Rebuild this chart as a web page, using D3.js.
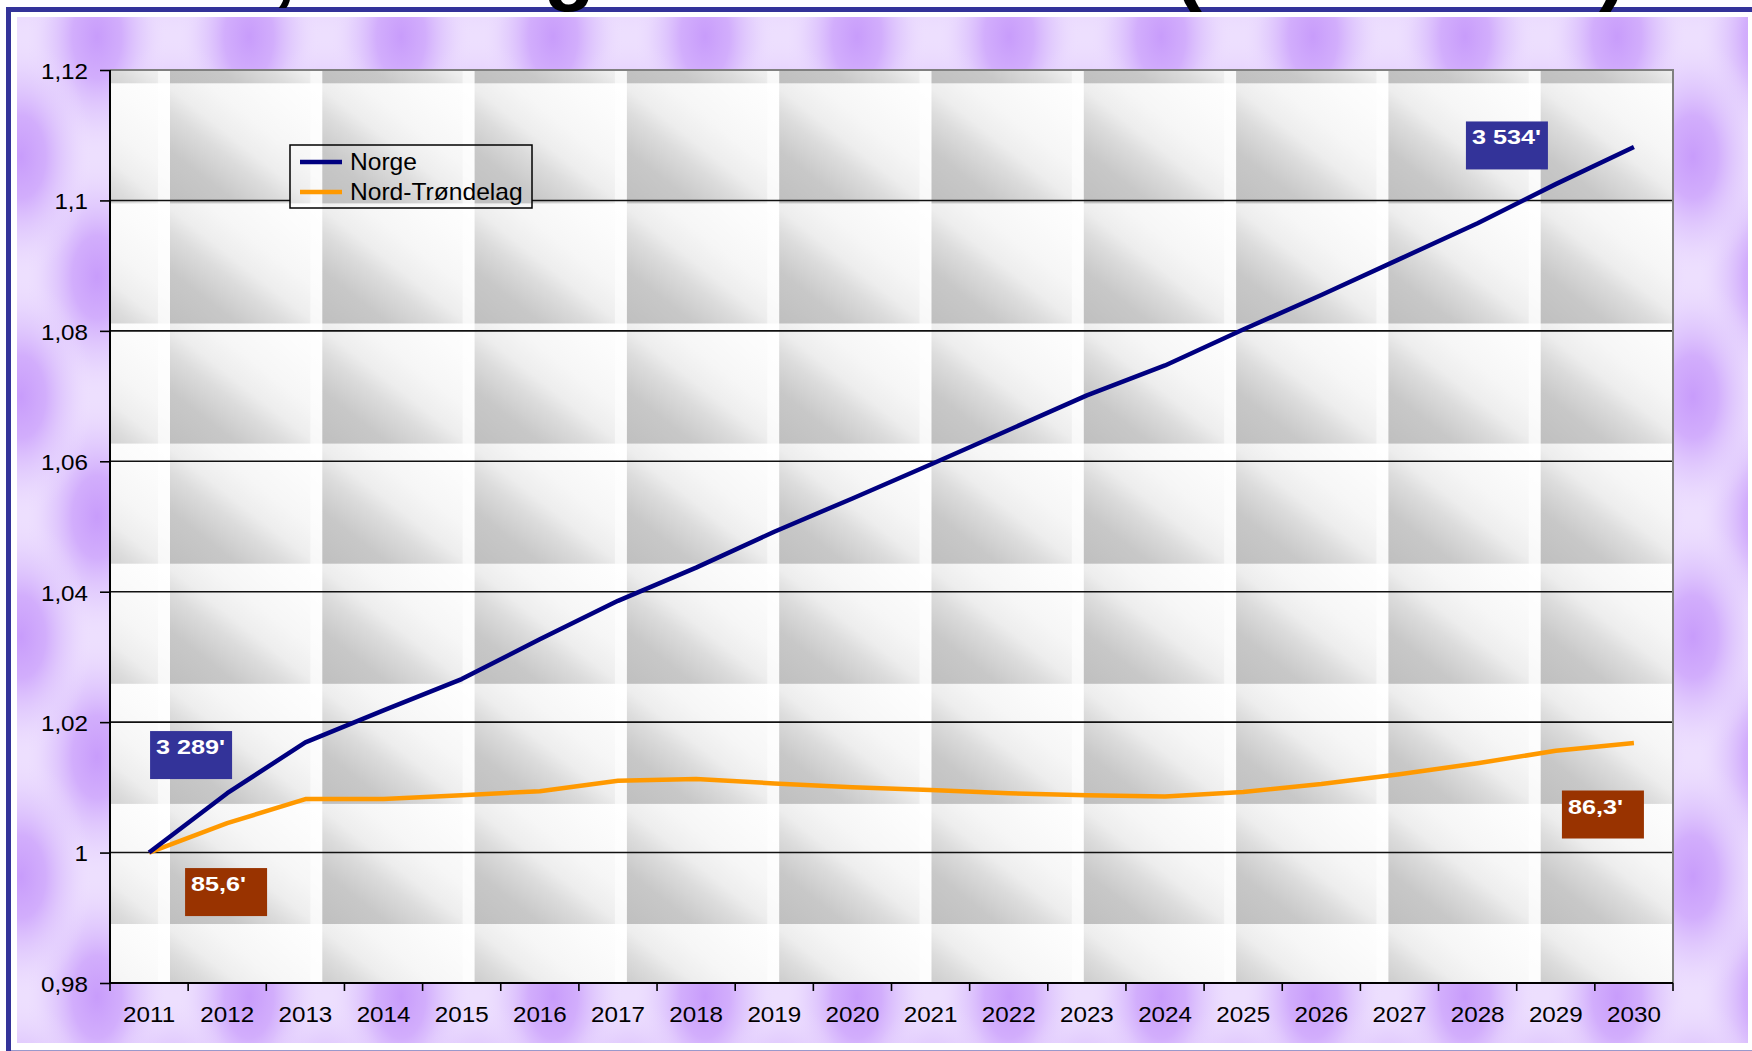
<!DOCTYPE html>
<html>
<head>
<meta charset="utf-8">
<script src="https://cdn.jsdelivr.net/npm/d3@7/dist/d3.min.js"></script>
<style>
  html, body { margin: 0; padding: 0; background: #fff; }
  svg { display: block; }
  text { font-family: "Liberation Sans", Arial, sans-serif; }
</style>
</head>
<body>
<svg width="1752" height="1051"></svg>
<script>
// data (index, 2011 = 1)
const years = ["2011", "2012", "2013", "2014", "2015", "2016", "2017", "2018", "2019", "2020",
               "2021", "2022", "2023", "2024", "2025", "2026", "2027", "2028", "2029", "2030"];
const norge = [1.0000, 1.0091, 1.0169, 1.0218, 1.0266, 1.0327, 1.0386, 1.0437, 1.0492, 1.0543,
               1.0595, 1.0648, 1.0701, 1.0747, 1.0802, 1.0855, 1.0910, 1.0965, 1.1025, 1.1082];
const nordTrondelag = [1.0000, 1.0045, 1.0082, 1.0082, 1.0088, 1.0094, 1.0110, 1.0113, 1.0106, 1.0100,
                       1.0096, 1.0091, 1.0088, 1.0086, 1.0093, 1.0105, 1.0120, 1.0137, 1.0156, 1.0168];
const seriesNames = ["Norge", "Nord-Trøndelag"];
const startLabels = ["3 289'", "85,6'"];
const endLabels = ["3 534'", "86,3'"];
const yTicks = [0.98, 1, 1.02, 1.04, 1.06, 1.08, 1.1, 1.12];
const yTickLabels = ["0,98", "1", "1,02", "1,04", "1,06", "1,08", "1,1", "1,12"];
const title = "Folketall, økning sammenlikna (2011-2030)";

(function() {
    let svg = d3.select("svg");
    let width = +svg.attr("width");
    let height = +svg.attr("height");

    let left = 110, right = 1673, top = 70, bottom = 983;

    var x = d3.scaleBand().domain(years).range([left, right]),
        y = d3.scaleLinear().domain([0.98, 1.12]).range([bottom, top]),
        colors = ["#000080", "#ff9900"],
        boxColors = ["#333399", "#993300"];

    let cx = d => x(d) + x.bandwidth() / 2;

    // ---- patterns
    let defs = svg.append("defs");

    let spot = defs.append("radialGradient").attr("id", "spot");
    spot.append("stop").attr("offset", 0).attr("stop-color", "#c89cfb");
    spot.append("stop").attr("offset", 0.35).attr("stop-color", "#cfa8fc").attr("stop-opacity", 0.9);
    spot.append("stop").attr("offset", 0.7).attr("stop-color", "#dcc2fd").attr("stop-opacity", 0.45);
    spot.append("stop").attr("offset", 1).attr("stop-color", "#ecdcfe").attr("stop-opacity", 0);

    let purple = defs.append("pattern").attr("id", "purple")
        .attr("patternUnits", "userSpaceOnUse")
        .attr("x", 21).attr("y", -83).attr("width", 152).attr("height", 240);
    purple.append("rect").attr("width", 152).attr("height", 240).attr("fill", "#eddffe");
    [[76, 120], [0, 0], [152, 0], [0, 240], [152, 240]].forEach(function(p) {
        purple.append("ellipse")
            .attr("cx", p[0]).attr("cy", p[1])
            .attr("rx", 70).attr("ry", 118)
            .attr("fill", "url(#spot)");
    });

    let tg = defs.append("linearGradient").attr("id", "tileGrad")
        .attr("x1", 0).attr("y1", 1).attr("x2", 1).attr("y2", 0);
    [[0, "#bfbfbf"], [0.22, "#c8c8c8"], [0.38, "#dcdcdc"], [0.48, "#ededed"],
     [0.62, "#f6f6f6"], [0.8, "#fbfbfb"], [1, "#ffffff"]].forEach(function(s) {
        tg.append("stop").attr("offset", s[0]).attr("stop-color", s[1]);
    });

    let tw = 152.3, th = 120.1;
    let tiles = defs.append("pattern").attr("id", "tiles")
        .attr("patternUnits", "userSpaceOnUse")
        .attr("x", 170).attr("y", 83.3).attr("width", tw).attr("height", th);
    tiles.append("rect").attr("width", tw).attr("height", th).attr("fill", "url(#tileGrad)");
    tiles.append("rect").attr("x", tw - 12).attr("width", 12).attr("height", th)
        .attr("fill", "#fff").attr("opacity", 0.6);

    // ---- background and frame
    svg.append("rect").attr("x", 17).attr("y", 17)
        .attr("width", 1748 - 17).attr("height", 1043 - 17)
        .attr("fill", "url(#purple)");

    svg.append("rect").attr("x", 8.5).attr("y", 9.5)
        .attr("width", width + 20).attr("height", height - 7.5)
        .attr("fill", "none").attr("stroke", "#333399").attr("stroke-width", 5);

    svg.append("rect").attr("x", left).attr("y", top)
        .attr("width", right - left).attr("height", bottom - top)
        .attr("fill", "url(#tiles)");

    // gridlines
    svg.append("g").selectAll("line")
        .data(yTicks.filter(d => d > 0.98 && d < 1.12))
        .join("line")
        .attr("x1", left).attr("x2", right)
        .attr("y1", d => y(d)).attr("y2", d => y(d))
        .attr("stroke", "#111").attr("stroke-width", 1.6);

    // plot border top / right
    svg.append("path")
        .attr("d", `M${left},${top}H${right}V${bottom}`)
        .attr("fill", "none").attr("stroke", "#808080").attr("stroke-width", 2);

    // ---- y axis
    let yAxis = d3.axisLeft(y).tickValues(yTicks)
        .tickFormat((d, i) => yTickLabels[i])
        .tickSize(10).tickPadding(10);

    let gy = svg.append("g")
        .attr("transform", "translate(" + left + ",0)")
        .call(yAxis);
    gy.select(".domain").remove();
    gy.selectAll(".tick line").attr("stroke", "#000").attr("stroke-width", 1.6);
    gy.selectAll(".tick text")
        .attr("fill", "#000").attr("font-size", 22).attr("dy", "0.38em")
        .attr("font-family", "Liberation Sans, Arial, sans-serif")
        .attr("transform", "scale(1.1,1)");

    // ---- x axis
    let xAxis = d3.axisBottom(x).tickSize(0).tickPadding(23.5);
    let gx = svg.append("g")
        .attr("transform", "translate(0," + bottom + ")")
        .call(xAxis);
    gx.select(".domain").remove();
    gx.selectAll(".tick text")
        .attr("fill", "#000").attr("font-size", 22)
        .attr("font-family", "Liberation Sans, Arial, sans-serif")
        .attr("transform", "scale(1.1,1)");

    svg.append("g").selectAll("line")
        .data(d3.range(years.length + 1))
        .join("line")
        .attr("x1", i => left + i * x.step()).attr("x2", i => left + i * x.step())
        .attr("y1", bottom).attr("y2", bottom + 8)
        .attr("stroke", "#000").attr("stroke-width", 1.6);

    svg.append("path")
        .attr("d", `M${left},${top}V${bottom}H${right}`)
        .attr("fill", "none").attr("stroke", "#000").attr("stroke-width", 2);

    // ---- lines
    let series = [norge, nordTrondelag];
    let line = d3.line()
        .x((d, i) => cx(years[i]))
        .y(d => y(d));

    svg.append("g").selectAll("path")
        .data(series.slice().reverse())
        .join("path")
        .attr("d", line)
        .attr("fill", "none")
        .attr("stroke", (d, i) => colors[1 - i])
        .attr("stroke-width", 4.5)
        .attr("stroke-linejoin", "round");

    // ---- legend
    let lg = svg.append("g");
    lg.append("rect").attr("x", 290).attr("y", 145).attr("width", 242).attr("height", 63)
        .attr("fill", "url(#tiles)").attr("stroke", "#000").attr("stroke-width", 1.5);
    seriesNames.forEach(function(name, i) {
        let yy = 162 + i * 30;
        lg.append("line").attr("x1", 300).attr("x2", 342).attr("y1", yy).attr("y2", yy)
            .attr("stroke", colors[i]).attr("stroke-width", 4.5);
        lg.append("text")
            .attr("transform", "translate(350," + (yy + 7.5) + ") scale(1.07,1)")
            .attr("font-size", 23).attr("fill", "#000")
            .text(name);
    });

    // ---- value labels, moved off the points like in the original
    let labelOffsets = {
        start: [[1, -121.5], [36, 15.5]],
        end: [[-168, -25.5], [-72, 47.5]]
    };
    function valueLabel(text, px, py, off, color) {
        let g = svg.append("g").attr("transform", "translate(" + (px + off[0]) + "," + (py + off[1]) + ")");
        g.append("rect").attr("width", 82).attr("height", 48).attr("fill", color);
        g.append("text")
            .attr("transform", "translate(6,23) scale(1.2,1)")
            .attr("font-size", 21).attr("font-weight", "bold").attr("fill", "#fff")
            .text(text);
    }
    series.forEach(function(s, i) {
        let first = years[0], last = years[years.length - 1];
        valueLabel(startLabels[i], cx(first), y(s[0]), labelOffsets.start[i], boxColors[i]);
        valueLabel(endLabels[i], cx(last), y(s[s.length - 1]), labelOffsets.end[i], boxColors[i]);
    });

    // ---- title, mostly above the picture edge (as in the original)
    svg.append("text")
        .attr("x", 1627).attr("y", -5)
        .attr("text-anchor", "end")
        .attr("font-size", 84).attr("font-weight", "bold").attr("fill", "#000")
        .text(title);
})()
</script>
</body>
</html>
